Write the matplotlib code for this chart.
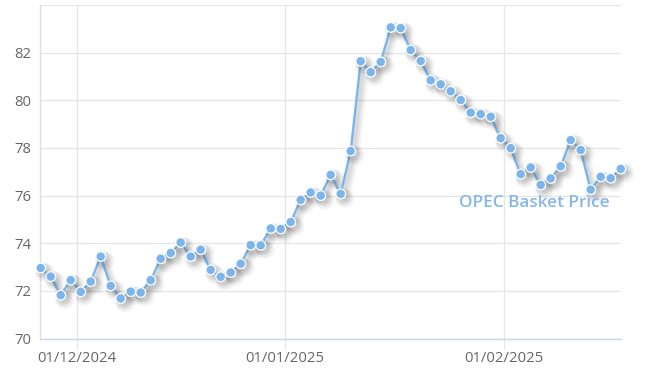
import matplotlib
matplotlib.use("Agg")
import matplotlib.pyplot as plt
import matplotlib.patheffects as pe
import numpy as np

# OPEC Basket Price, one value per published (trading) day, late Nov 2024 - Feb 2025
prices = [72.96, 72.60, 71.82, 72.45, 71.96, 72.39, 73.44, 72.21, 71.68, 71.97,
          71.93, 72.45, 73.35, 73.59, 74.03, 73.44, 73.73, 72.88, 72.59, 72.77,
          73.14, 73.92, 73.91, 74.62, 74.60, 74.89, 75.82, 76.13, 76.00, 76.87,
          76.07, 77.87, 81.64, 81.18, 81.61, 83.06, 83.03, 82.11, 81.65, 80.84,
          80.67, 80.38, 80.01, 79.48, 79.42, 79.31, 78.41, 77.99, 76.90, 77.18,
          76.45, 76.72, 77.23, 78.33, 77.91, 76.25, 76.79, 76.73, 77.12]
day_index = list(range(len(prices)))

# month boundaries on the trading-day axis
month_tick_pos = [3.6, 24.43, 46.33]
month_tick_labels = ["01/12/2024", "01/01/2025", "01/02/2025"]

y_ticks = [70, 72, 74, 76, 78, 80, 82, 84]
y_tick_labels = ["70", "72", "74", "76", "78", "80", "82", ""]

series_name = "OPEC Basket Price"

plt.rcParams['font.family'] = ['Open Sans', 'DejaVu Sans']

W, H = 650, 386
fig = plt.figure(figsize=(W / 100, H / 100), dpi=100)
left, right, top, bottom = 40.0, 621.0, 5.0, 338.5
ax = fig.add_axes([left / W, 1 - bottom / H, (right - left) / W, (bottom - top) / H])

ax.set_xlim(-0.07, 58.03)
ax.set_ylim(70, 84)

line_color = "#7cb5ec"
shadow = [
    pe.SimpleLineShadow(offset=(3, -3), shadow_color="#000000", alpha=0.04, linewidth=7),
    pe.SimpleLineShadow(offset=(2.5, -2.5), shadow_color="#000000", alpha=0.05, linewidth=5),
    pe.SimpleLineShadow(offset=(2, -2), shadow_color="#000000", alpha=0.06, linewidth=3),
    pe.Normal(),
]
ax.plot(day_index, prices, color=line_color, lw=1.7, marker="o", ms=7.0,
        markerfacecolor=line_color, markeredgecolor="white", markeredgewidth=0.9,
        zorder=3, clip_on=False, path_effects=shadow)

# grid
ax.set_yticks(y_ticks)
ax.set_yticklabels(y_tick_labels)
ax.set_xticks(month_tick_pos)
ax.set_xticklabels(month_tick_labels)
ax.grid(True, axis="both", color="#e6e6e6", lw=1.0, zorder=0)
ax.set_axisbelow(True)

for s in ["top", "right"]:
    ax.spines[s].set_visible(False)
ax.spines["left"].set_color("#e0e0e0")
ax.spines["left"].set_linewidth(1.0)
ax.spines["bottom"].set_color("#ccd6eb")
ax.spines["bottom"].set_linewidth(1.0)

ax.tick_params(axis="y", length=0, pad=6, labelsize=10.7, labelcolor="#666666")
ax.tick_params(axis="x", length=7, width=1.0, color="#e6e6e6", pad=2,
               labelsize=10.7, labelcolor="#666666")
for lbl in ax.get_yticklabels():
    lbl.set_va("center_baseline")

ax.text(41.8, 75.7, series_name, color="#86b6e8", fontsize=12.3, fontweight="semibold",
        ha="left", va="center", zorder=4)

fig.savefig("out.png", dpi=100, facecolor="white")
